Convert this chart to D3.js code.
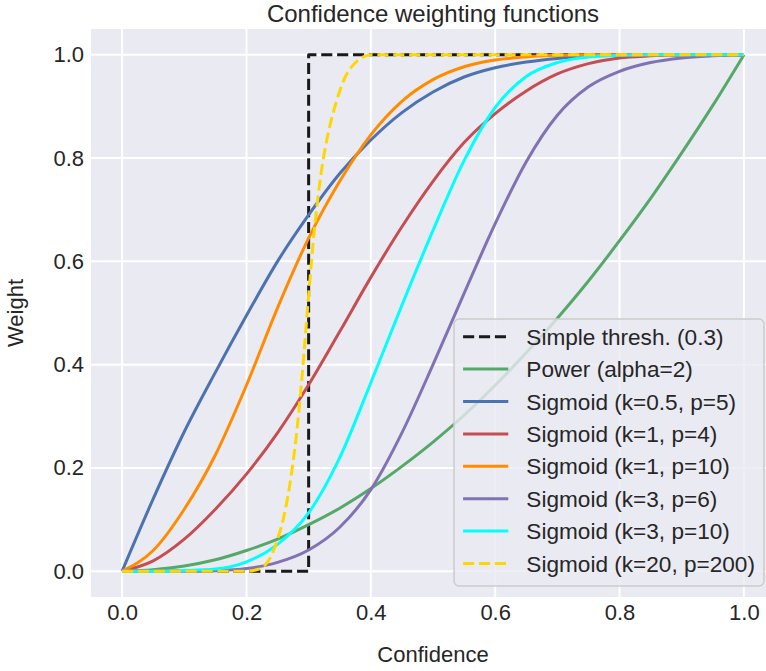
<!DOCTYPE html>
<html>
<head>
<meta charset="utf-8">
<script src="https://cdn.jsdelivr.net/npm/d3@7"></script>
<style>
  body { margin: 0; background: #fff; }
  text { font-family: "Liberation Sans", Arial, sans-serif; fill: #262626; }
</style>
</head>
<body>
<svg id="chart" width="766" height="671"></svg>
<script>
// values
var confidence = [0, 0.05, 0.1, 0.15, 0.2, 0.25, 0.3, 0.35, 0.4, 0.45, 0.5,
                  0.55, 0.6, 0.65, 0.7, 0.75, 0.8, 0.85, 0.9, 0.95, 1.0];

var threshX = [0, 0.3, 0.3, 1.0];
var threshY = [0, 0, 1, 1];

var powerY  = [0, 0.003, 0.01, 0.022, 0.04, 0.062, 0.09, 0.122, 0.16, 0.203, 0.25,
               0.302, 0.36, 0.423, 0.49, 0.562, 0.64, 0.722, 0.81, 0.902, 1.0];
var sigA_Y  = [0, 0.14, 0.27, 0.385, 0.495, 0.6, 0.69, 0.77, 0.835, 0.888, 0.928,
               0.957, 0.975, 0.986, 0.993, 0.997, 0.999, 1, 1, 1, 1];
var sigB_Y  = [0, 0.02, 0.062, 0.12, 0.188, 0.268, 0.361, 0.464, 0.569, 0.667, 0.755,
               0.83, 0.886, 0.93, 0.963, 0.983, 0.994, 0.998, 1, 1, 1];
var sigC_Y  = [0, 0.04, 0.12, 0.225, 0.36, 0.51, 0.645, 0.755, 0.845, 0.91, 0.952,
               0.977, 0.99, 0.996, 0.999, 1, 1, 1, 1, 1, 1];
var sigD_Y  = [0, 0, 0, 0.001, 0.005, 0.017, 0.041, 0.085, 0.158, 0.268, 0.4,
               0.538, 0.673, 0.793, 0.883, 0.938, 0.968, 0.985, 0.994, 0.998, 1];
var sigE_Y  = [0, 0, 0.001, 0.004, 0.018, 0.052, 0.113, 0.22, 0.365, 0.515, 0.66,
               0.795, 0.898, 0.958, 0.985, 0.996, 0.999, 1, 1, 1, 1];

// the steep one needs a finer grid round the jump
var steepX = [0, 0.2, 0.21, 0.22, 0.23, 0.24, 0.25, 0.26, 0.27, 0.28, 0.29, 0.3,
              0.31, 0.32, 0.33, 0.34, 0.35, 0.36, 0.37, 0.38, 0.39, 0.4, 1.0];
var steepY = [0, 0, 0.001, 0.004, 0.012, 0.03, 0.062, 0.105, 0.17, 0.26, 0.385, 0.535,
              0.67, 0.77, 0.84, 0.89, 0.93, 0.96, 0.978, 0.99, 0.997, 1, 1];

var seriesLabels = ['Simple thresh. (0.3)', 'Power (alpha=2)', 'Sigmoid (k=0.5, p=5)',
                    'Sigmoid (k=1, p=4)', 'Sigmoid (k=1, p=10)', 'Sigmoid (k=3, p=6)',
                    'Sigmoid (k=3, p=10)', 'Sigmoid (k=20, p=200)'];
var tickValues = [0, 0.2, 0.4, 0.6, 0.8, 1.0];

(function() {

  'use strict';

  var svg = d3.select('#chart');
  var margin = {left: 91, right: 775, top: 29, bottom: 597};
  var bg = '#EAEAF2', textColor = '#262626';

  var x = d3.scaleLinear().domain([-0.05, 1.05]).range([margin.left, margin.right]);
  var y = d3.scaleLinear().domain([-0.05, 1.05]).range([margin.bottom, margin.top]);

  function zip(xs, ys) {
    return xs.map(function(v, i) { return [v, ys[i]]; });
  }

  var series = [
    {label: seriesLabels[0], pts: zip(threshX, threshY), color: '#1a1a1a', dash: true, linear: true},
    {label: seriesLabels[1], pts: zip(confidence, powerY), color: '#55A868'},
    {label: seriesLabels[2], pts: zip(confidence, sigA_Y), color: '#4C72B0'},
    {label: seriesLabels[3], pts: zip(confidence, sigB_Y), color: '#C44E52'},
    {label: seriesLabels[4], pts: zip(confidence, sigC_Y), color: '#FF8C00'},
    {label: seriesLabels[5], pts: zip(confidence, sigD_Y), color: '#8172B3'},
    {label: seriesLabels[6], pts: zip(confidence, sigE_Y), color: '#00FFFF'},
    {label: seriesLabels[7], pts: zip(steepX, steepY), color: '#FFD700', dash: true}
  ];

  svg.append('rect')
    .attr('x', margin.left).attr('y', margin.top)
    .attr('width', margin.right - margin.left)
    .attr('height', margin.bottom - margin.top)
    .attr('fill', bg);

  // grid
  var grid = svg.append('g').attr('class', 'grid');
  grid.selectAll('.vgrid').data(tickValues).enter().append('line')
    .attr('x1', function(d) { return x(d); }).attr('x2', function(d) { return x(d); })
    .attr('y1', margin.top).attr('y2', margin.bottom)
    .attr('stroke', '#fff').attr('stroke-width', 2);
  grid.selectAll('.hgrid').data(tickValues).enter().append('line')
    .attr('y1', function(d) { return y(d); }).attr('y2', function(d) { return y(d); })
    .attr('x1', margin.left).attr('x2', margin.right)
    .attr('stroke', '#fff').attr('stroke-width', 2);

  // axes, no ticks or domain line in darkgrid
  var xAxis = svg.append('g')
    .attr('transform', 'translate(0,' + margin.bottom + ')')
    .call(d3.axisBottom(x).tickValues(tickValues).tickFormat(d3.format('.1f')).tickSize(0).tickPadding(7));
  var yAxis = svg.append('g')
    .attr('transform', 'translate(' + margin.left + ',0)')
    .call(d3.axisLeft(y).tickValues(tickValues).tickFormat(d3.format('.1f')).tickSize(0).tickPadding(7));
  [xAxis, yAxis].forEach(function(ax) {
    ax.attr('font-family', null);
    ax.select('.domain').remove();
    ax.selectAll('text').attr('font-size', 22).attr('fill', textColor);
  });

  // lines
  svg.append('clipPath').attr('id', 'plotclip').append('rect')
    .attr('x', margin.left).attr('y', margin.top)
    .attr('width', margin.right - margin.left).attr('height', margin.bottom - margin.top);

  var smooth = d3.line().x(function(d) { return x(d[0]); }).y(function(d) { return y(d[1]); })
    .curve(d3.curveMonotoneX);
  var straight = d3.line().x(function(d) { return x(d[0]); }).y(function(d) { return y(d[1]); });

  svg.append('g').attr('clip-path', 'url(#plotclip)')
    .selectAll('path').data(series).enter().append('path')
    .attr('d', function(d) { return d.linear ? straight(d.pts) : smooth(d.pts); })
    .attr('fill', 'none')
    .attr('stroke', function(d) { return d.color; })
    .attr('stroke-width', 3)
    .attr('stroke-linejoin', 'round')
    .attr('stroke-dasharray', function(d) { return d.dash ? '11.1,4.8' : null; });

  // labels
  svg.append('text')
    .attr('x', (margin.left + margin.right) / 2).attr('y', 22)
    .attr('text-anchor', 'middle').attr('font-size', 24)
    .text('Confidence weighting functions');
  svg.append('text')
    .attr('x', (margin.left + margin.right) / 2).attr('y', 662)
    .attr('text-anchor', 'middle').attr('font-size', 22)
    .text('Confidence');
  svg.append('text')
    .attr('transform', 'translate(23,' + ((margin.top + margin.bottom) / 2) + ') rotate(-90)')
    .attr('text-anchor', 'middle').attr('font-size', 22)
    .text('Weight');

  // legend, lower right
  var fs = 22.6, rowH = 32.4;
  var legend = svg.append('g');
  var box = legend.append('rect')
    .attr('fill', bg).attr('fill-opacity', 0.8)
    .attr('stroke', '#CCCCCC').attr('stroke-width', 1.5)
    .attr('rx', 5).attr('ry', 5);
  var rows = legend.selectAll('.row').data(series).enter().append('g');
  rows.append('line')
    .attr('x1', 0).attr('x2', 2 * fs)
    .attr('stroke', function(d) { return d.color; })
    .attr('stroke-width', 3)
    .attr('stroke-dasharray', function(d) { return d.dash ? '11.1,4.8' : null; });
  rows.append('text')
    .attr('x', 2.8 * fs).attr('y', 8)
    .attr('font-size', fs)
    .text(function(d) { return d.label; });

  var textW = d3.max(rows.selectAll('text').nodes(), function(n) { return n.getComputedTextLength(); });
  var boxW = 0.4 * fs + 2.8 * fs + textW + 0.4 * fs;
  var boxH = 267;
  var boxRight = margin.right - 11, boxBottom = margin.bottom - 11;
  var boxLeft = boxRight - boxW, boxTop = boxBottom - boxH;
  box.attr('x', boxLeft).attr('y', boxTop).attr('width', boxW).attr('height', boxH);
  rows.attr('transform', function(d, i) {
    return 'translate(' + (boxLeft + 0.4 * fs) + ',' + (boxTop + 17.7 + i * rowH) + ')';
  });

})();
</script>
</body>
</html>
